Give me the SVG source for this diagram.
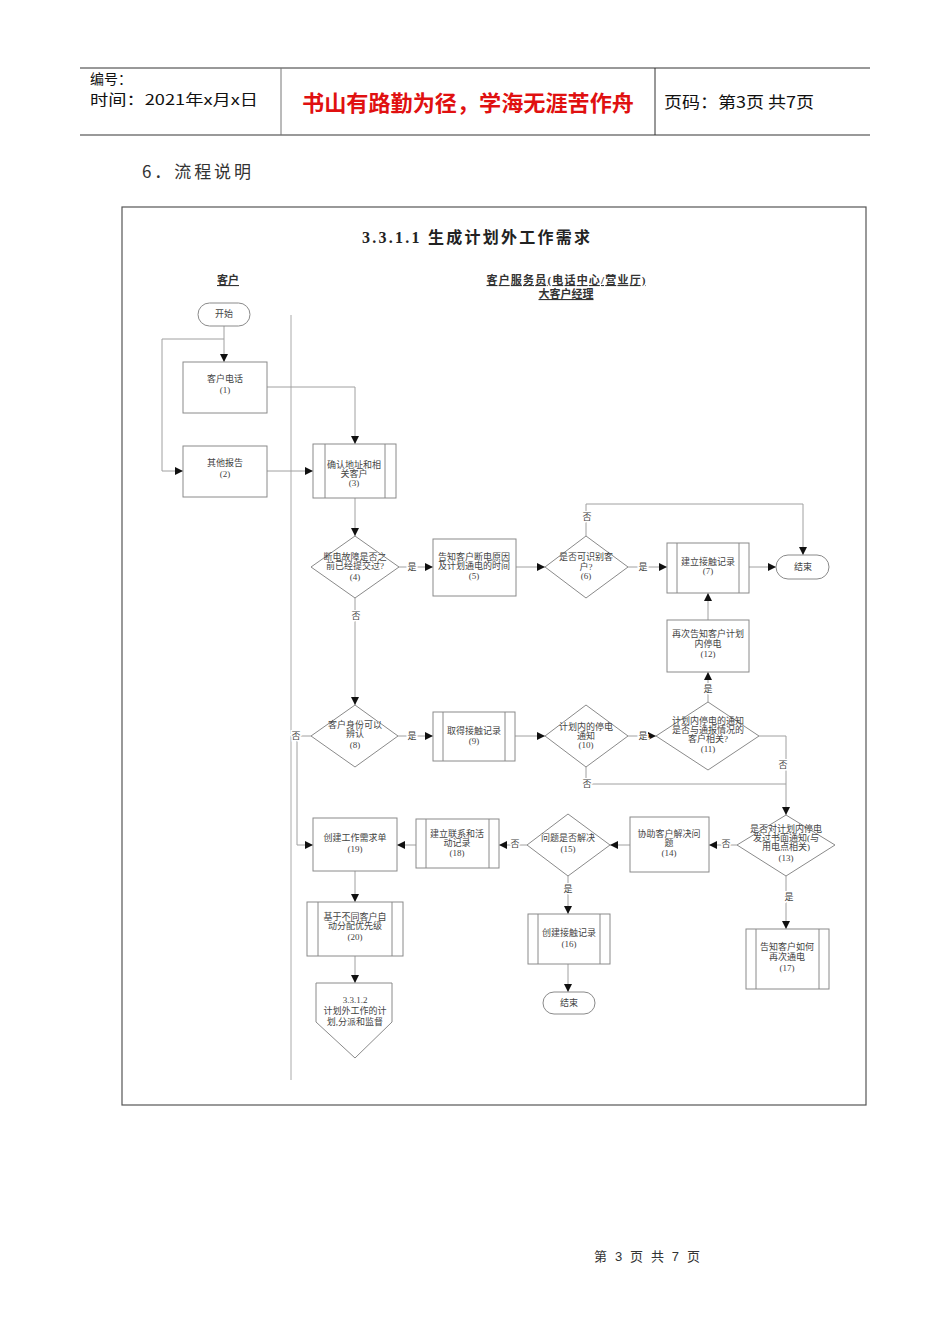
<svg xmlns="http://www.w3.org/2000/svg" width="950" height="1344" viewBox="0 0 950 1344">
<defs>
<marker id="ah" markerUnits="userSpaceOnUse" markerWidth="8" markerHeight="8" refX="8" refY="4" orient="auto">
<path d="M0,0 L8,4 L0,8 z" fill="#111"/>
</marker>
<style>
.n{fill:#fff;stroke:#8a8a8a;stroke-width:1}
.in{stroke:#8a8a8a;stroke-width:1}
.c{fill:none;stroke:#a0a0a0;stroke-width:1}
.a{marker-end:url(#ah)}
.t{font-family:"Liberation Serif","Noto Sans CJK SC",serif;font-size:9px;fill:#444;text-anchor:middle}
.l{font-family:"Liberation Serif","Noto Sans CJK SC",serif;font-size:9px;fill:#444;text-anchor:middle;stroke:#fff;stroke-width:3;paint-order:stroke}
.h{font-family:"Noto Sans CJK SC",sans-serif;fill:#111}
.lane{font-family:"Liberation Serif","Noto Sans CJK SC",serif;font-size:11px;font-weight:bold;fill:#333;text-anchor:middle;text-decoration:underline}
</style>
</defs>
<rect width="950" height="1344" fill="#fff"/>
<g id="header">
<line x1="80" y1="68" x2="870" y2="68" stroke="#333" stroke-width="1"/>
<line x1="80" y1="135" x2="870" y2="135" stroke="#777" stroke-width="1.5"/>
<line x1="281" y1="68" x2="281" y2="135" stroke="#777" stroke-width="1"/>
<line x1="655" y1="68" x2="655" y2="135" stroke="#333" stroke-width="1"/>
<text class="h" x="90" y="84" font-size="14">编号：</text>
<text class="h" x="90" y="105" font-size="14.5" textLength="168" lengthAdjust="spacingAndGlyphs">时间：2021年x月x日</text>
<text class="h" x="302" y="111" font-size="21.5" font-weight="bold" style="fill:#e01010" textLength="332" lengthAdjust="spacingAndGlyphs">书山有路勤为径，学海无涯苦作舟</text>
<text class="h" x="664" y="108" font-size="16" textLength="150" lengthAdjust="spacingAndGlyphs">页码：第3页 共7页</text>
</g>
<text class="h" x="142" y="178" font-size="17" style="fill:#333" textLength="109" lengthAdjust="spacing">6．流程说明</text>
<rect x="122" y="207" width="744" height="898" fill="none" stroke="#555" stroke-width="1.2"/>
<text x="362" y="243" font-family="'Liberation Serif','Noto Sans CJK SC',serif" font-size="16" font-weight="bold" fill="#222" textLength="228" lengthAdjust="spacing">3.3.1.1 生成计划外工作需求</text>
<text class="lane" x="228" y="284">客户</text>
<text class="lane" x="566" y="284" textLength="159" lengthAdjust="spacing">客户服务员(电话中心/营业厅)</text>
<text class="lane" x="566" y="298">大客户经理</text>
<line x1="291" y1="315" x2="291" y2="1080" stroke="#aaa" stroke-width="1"/>

<g id="connectors">
<path class="c a" d="M224,326 V362"/>
<path class="c a" d="M224,339 H162 V471 H183"/>
<path class="c a" d="M267,387 H355 V444"/>
<path class="c a" d="M267,471 H313"/>
<path class="c a" d="M355,498 V536"/>
<path class="c a" d="M399,567 H433"/>
<path class="c a" d="M516,567 H545"/>
<path class="c a" d="M586,536 V504 H803 V555"/>
<path class="c a" d="M628,567 H667"/>
<path class="c a" d="M749,567 H776"/>
<path class="c a" d="M708,620 V593"/>
<path class="c a" d="M708,702 V672"/>
<path class="c a" d="M355,598 V705"/>
<path class="c a" d="M311,736 H297 V845 H313"/>
<path class="c a" d="M398,736 H433"/>
<path class="c a" d="M515,736 H545"/>
<path class="c a" d="M628,736 H656"/>
<path class="c" d="M586,767 V784 H786"/>
<path class="c a" d="M759,736 H786 V815"/>
<path class="c a" d="M737,845 H709"/>
<path class="c a" d="M630,845 H610"/>
<path class="c a" d="M527,845 H499"/>
<path class="c a" d="M416,845 H397"/>
<path class="c a" d="M355,871 V902"/>
<path class="c a" d="M355,956 V983"/>
<path class="c a" d="M568,876 V914"/>
<path class="c a" d="M568,964 V992"/>
<path class="c a" d="M786,876 V929"/>
<text class="l" x="412" y="570">是</text>
<text class="l" x="587" y="520">否</text>
<text class="l" x="643" y="570">是</text>
<text class="l" x="708" y="692">是</text>
<text class="l" x="356" y="619">否</text>
<text class="l" x="296" y="739">否</text>
<text class="l" x="412" y="739">是</text>
<text class="l" x="643" y="739">是</text>
<text class="l" x="587" y="787">否</text>
<text class="l" x="783" y="768">否</text>
<text class="l" x="726" y="847">否</text>
<text class="l" x="515" y="847">否</text>
<text class="l" x="568" y="892">是</text>
<text class="l" x="789" y="900">是</text>
</g>

<g id="start"><rect class="n" x="198" y="303" width="52" height="23" rx="11.5"/><text class="t" x="224" y="317">开始</text></g>
<g id="n1"><rect class="n" x="183" y="362" width="84" height="51"/><text class="t" x="225" y="382">客户电话</text><text class="t" x="225" y="393">(1)</text></g>
<g id="n2"><rect class="n" x="183" y="446" width="84" height="51"/><text class="t" x="225" y="466">其他报告</text><text class="t" x="225" y="477">(2)</text></g>
<g id="n3"><rect class="n" x="313" y="444" width="83" height="54"/><line class="in" x1="325" y1="444" x2="325" y2="498"/><line class="in" x1="385" y1="444" x2="385" y2="498"/><text class="t" x="354" y="468">确认地址和相</text><text class="t" x="354" y="477">关客户</text><text class="t" x="354" y="486">(3)</text></g>
<g id="n4"><polygon class="n" points="355,536 399,567 355,598 311,567"/><text class="t" x="355" y="560">断电故障是否之</text><text class="t" x="355" y="569">前已经提交过?</text><text class="t" x="355" y="580">(4)</text></g>
<g id="n5"><rect class="n" x="433" y="539" width="83" height="57"/><text class="t" x="474" y="560">告知客户断电原因</text><text class="t" x="474" y="569">及计划通电的时间</text><text class="t" x="474" y="579">(5)</text></g>
<g id="n6"><polygon class="n" points="586,536 628,567 586,598 545,567"/><text class="t" x="586" y="560">是否可识别客</text><text class="t" x="586" y="570">户?</text><text class="t" x="586" y="579">(6)</text></g>
<g id="n7"><rect class="n" x="667" y="543" width="82" height="50"/><line class="in" x1="677" y1="543" x2="677" y2="593"/><line class="in" x1="739" y1="543" x2="739" y2="593"/><text class="t" x="708" y="565">建立接触记录</text><text class="t" x="708" y="574">(7)</text></g>
<g id="end1"><rect class="n" x="776" y="555" width="53" height="24" rx="12"/><text class="t" x="803" y="570">结束</text></g>
<g id="n12"><rect class="n" x="667" y="620" width="82" height="52"/><text class="t" x="708" y="637">再次告知客户计划</text><text class="t" x="708" y="647">内停电</text><text class="t" x="708" y="657">(12)</text></g>
<g id="n8"><polygon class="n" points="355,705 398,736 355,767 311,736"/><text class="t" x="355" y="728">客户身份可以</text><text class="t" x="355" y="737">辨认</text><text class="t" x="355" y="748">(8)</text></g>
<g id="n9"><rect class="n" x="433" y="712" width="82" height="49"/><line class="in" x1="443" y1="712" x2="443" y2="761"/><line class="in" x1="505" y1="712" x2="505" y2="761"/><text class="t" x="474" y="734">取得接触记录</text><text class="t" x="474" y="744">(9)</text></g>
<g id="n10"><polygon class="n" points="586,705 628,736 586,767 545,736"/><text class="t" x="586" y="730">计划内的停电</text><text class="t" x="586" y="739">通知</text><text class="t" x="586" y="748">(10)</text></g>
<g id="n11"><polygon class="n" points="708,702 759,736 708,770 656,736"/><text class="t" x="708" y="724">计划内停电的通知</text><text class="t" x="708" y="733">是否与通报情况的</text><text class="t" x="708" y="742">客户相关?</text><text class="t" x="708" y="752">(11)</text></g>
<g id="n13"><polygon class="n" points="786,815 835,845 786,876 737,845"/><text class="t" x="786" y="832">是否对计划内停电</text><text class="t" x="786" y="841">发过书面通知(与</text><text class="t" x="786" y="850">用电点相关)</text><text class="t" x="786" y="861">(13)</text></g>
<g id="n14"><rect class="n" x="630" y="817" width="79" height="55"/><text class="t" x="669" y="837">协助客户解决问</text><text class="t" x="669" y="846">题</text><text class="t" x="669" y="856">(14)</text></g>
<g id="n15"><polygon class="n" points="568,814 610,845 568,876 527,845"/><text class="t" x="568" y="841">问题是否解决</text><text class="t" x="568" y="852">(15)</text></g>
<g id="n18"><rect class="n" x="416" y="819" width="83" height="49"/><line class="in" x1="426" y1="819" x2="426" y2="868"/><line class="in" x1="489" y1="819" x2="489" y2="868"/><text class="t" x="457" y="837">建立联系和活</text><text class="t" x="457" y="846">动记录</text><text class="t" x="457" y="856">(18)</text></g>
<g id="n19"><rect class="n" x="313" y="818" width="84" height="53"/><text class="t" x="355" y="841">创建工作需求单</text><text class="t" x="355" y="852">(19)</text></g>
<g id="n20"><rect class="n" x="307" y="902" width="96" height="54"/><line class="in" x1="318" y1="902" x2="318" y2="956"/><line class="in" x1="392" y1="902" x2="392" y2="956"/><text class="t" x="355" y="920">基于不同客户自</text><text class="t" x="355" y="929">动分配优先级</text><text class="t" x="355" y="940">(20)</text></g>
<g id="offpage"><polygon class="n" points="316,983 392,983 392,1022 355,1058 316,1022"/><text class="t" x="355" y="1003">3.3.1.2</text><text class="t" x="355" y="1014">计划外工作的计</text><text class="t" x="355" y="1025">划,分派和监督</text></g>
<g id="n16"><rect class="n" x="528" y="914" width="82" height="50"/><line class="in" x1="538" y1="914" x2="538" y2="964"/><line class="in" x1="600" y1="914" x2="600" y2="964"/><text class="t" x="569" y="936">创建接触记录</text><text class="t" x="569" y="947">(16)</text></g>
<g id="end2"><rect class="n" x="543" y="992" width="52" height="22" rx="11"/><text class="t" x="569" y="1006">结束</text></g>
<g id="n17"><rect class="n" x="746" y="929" width="83" height="60"/><line class="in" x1="756" y1="929" x2="756" y2="989"/><line class="in" x1="819" y1="929" x2="819" y2="989"/><text class="t" x="787" y="950">告知客户如何</text><text class="t" x="787" y="960">再次通电</text><text class="t" x="787" y="971">(17)</text></g>

<text x="594" y="1261" font-family="'Liberation Sans','Noto Sans CJK SC',sans-serif" font-size="13" fill="#333" textLength="106" lengthAdjust="spacing">第 3 页 共 7 页</text>
</svg>
